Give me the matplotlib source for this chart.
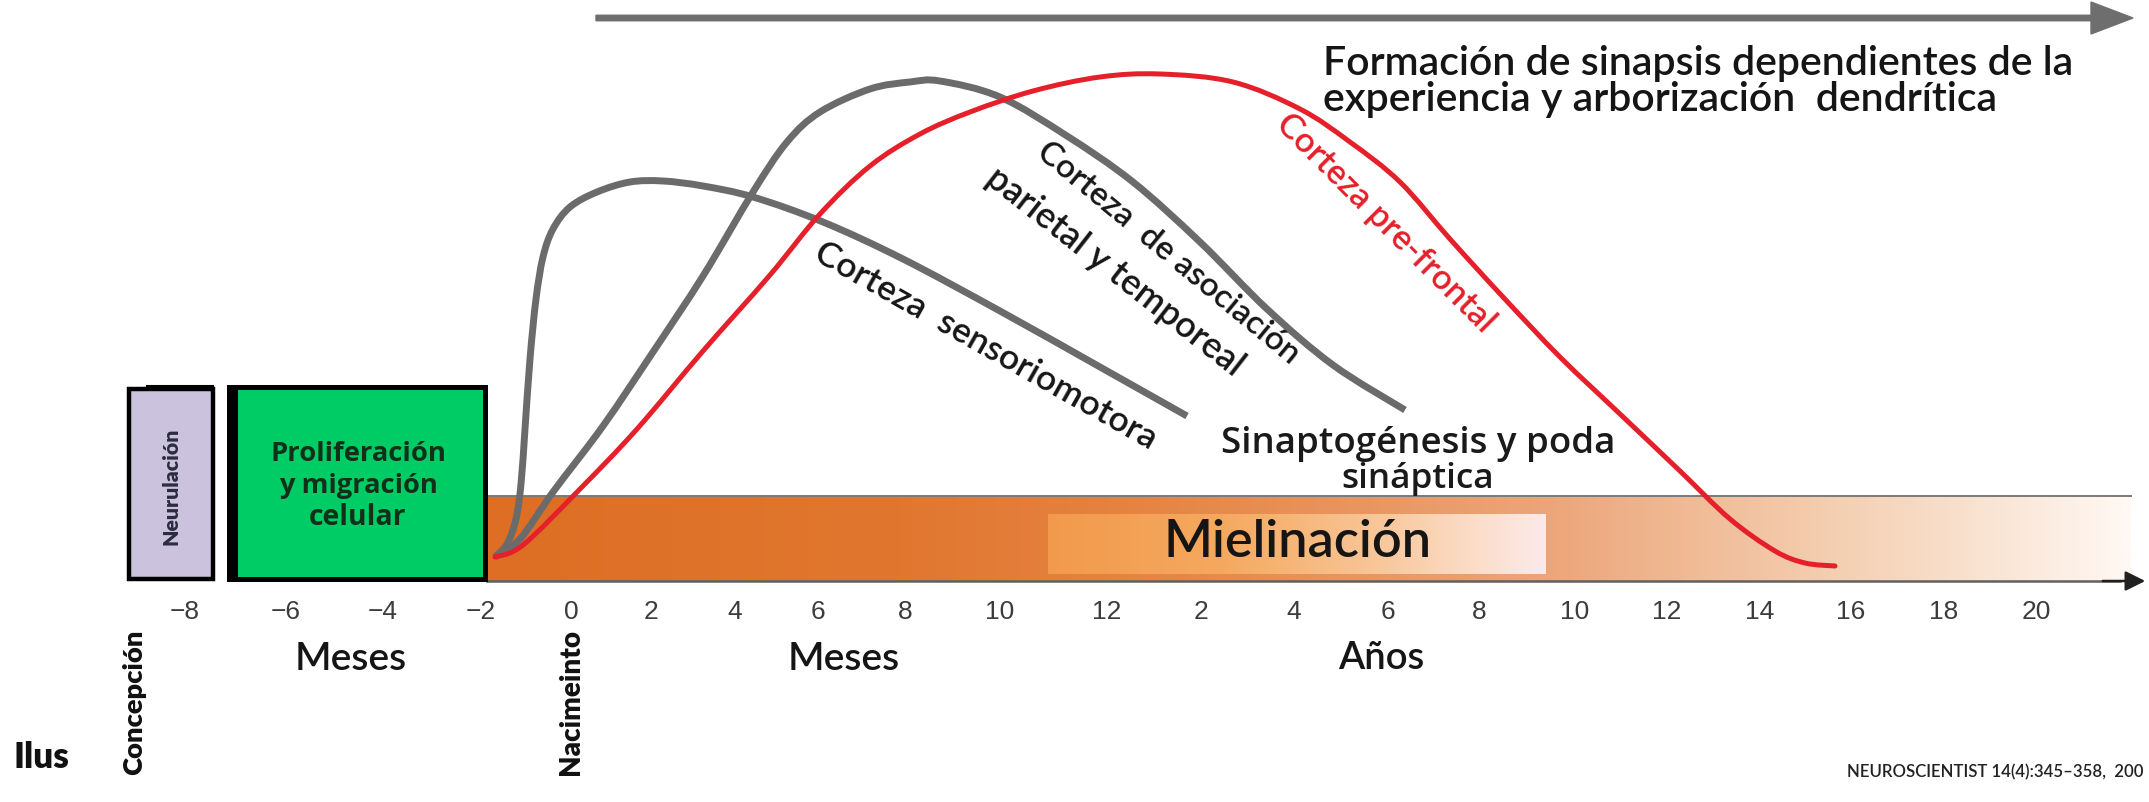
import numpy as np
import matplotlib
matplotlib.use("Agg")
import matplotlib.pyplot as plt
from matplotlib.colors import LinearSegmentedColormap
from matplotlib.patches import Rectangle, FancyArrow, PathPatch
from matplotlib.path import Path

# ---------------- data (pixel-like timeline units) ----------------
tick_labels = ["−8", "−6", "−4", "−2", "0", "2", "4", "6", "8", "10", "12",
               "2", "4", "6", "8", "10", "12", "14", "16", "18", "20"]
tick_pos = [185, 286, 383, 481, 571, 651, 735, 818, 905, 1000, 1107,
            1201, 1294, 1388, 1479, 1575, 1667, 1760, 1851, 1944, 2036]

sens_x = [495, 507, 516, 521, 525, 530, 536, 543, 553, 570, 597, 630, 663, 703, 753, 823, 903, 1000, 1100, 1187]
sens_y = [558, 545, 520, 485, 430, 360, 300, 258, 230, 208, 193, 183, 182, 187, 198, 223, 260, 312, 368, 417]

assoc_x = [495, 520, 553, 603, 653, 703, 753, 787, 820, 870, 910, 940, 1000, 1067, 1133, 1200, 1267, 1333, 1405]
assoc_y = [558, 540, 493, 427, 353, 277, 193, 143, 113, 90, 83, 82, 98, 137, 183, 243, 310, 366, 411]

pref_x = [495, 523, 580, 637, 703, 770, 820, 870, 920, 970, 1033, 1100, 1160, 1233, 1300, 1350,
          1400, 1450, 1503, 1560, 1620, 1680, 1730, 1775, 1805, 1835]
pref_y = [558, 546, 490, 430, 352, 276, 215, 167, 135, 113, 92, 78, 75, 83, 110, 143,
          183, 240, 298, 358, 415, 472, 520, 552, 564, 567]

# ---------------- figure ----------------
W, H = 2149, 803
fig = plt.figure(figsize=(W / 100, H / 100), dpi=100)
fig.patch.set_facecolor("white")
ax = fig.add_axes([0, 0, 1, 1])
ax.set_xlim(0, W)
ax.set_ylim(H, 0)
ax.set_facecolor("none")
for s in ["left", "right", "top"]:
    ax.spines[s].set_visible(False)
ax.spines["bottom"].set_position(("data", 582))
ax.spines["bottom"].set_bounds(487, 2120)
ax.spines["bottom"].set_color("#606060")
ax.spines["bottom"].set_linewidth(1.8)
ax.set_yticks([])
ax.set_xticks(tick_pos, tick_labels)
ax.tick_params(axis="x", length=0, pad=13, labelsize=19, labelcolor="#3c3c3c")
for lab in ax.get_xticklabels():
    lab.set_family("Liberation Sans")

r = fig.canvas.get_renderer()


def place(x, y, s, width, rot=0, ha="center", va="center", **kw):
    t = ax.text(x, y, s, ha=ha, va=va, fontsize=20, rotation=0,
                rotation_mode="anchor", zorder=10, **kw)
    w = t.get_window_extent(renderer=r).width
    t.set_fontsize(20 * width / w)
    t.set_rotation(rot)
    return t


def smooth_curve(xs, ys, **kw):
    """Draw the read points as one smooth Catmull-Rom (Bezier) path."""
    P = np.column_stack([xs, ys]).astype(float)
    P = np.vstack([P[0], P, P[-1]])
    verts = [tuple(P[1])]
    codes = [Path.MOVETO]
    for i in range(1, len(P) - 2):
        p0, p1, p2, p3 = P[i - 1], P[i], P[i + 1], P[i + 2]
        c1 = p1 + (p2 - p0) / 6.0
        c2 = p2 - (p3 - p1) / 6.0
        verts += [tuple(c1), tuple(c2), tuple(p2)]
        codes += [Path.CURVE4] * 3
    ax.add_patch(PathPatch(Path(verts, codes), facecolor="none", **kw))


# ---------------- timeline band with gradient ----------------
band_cmap = LinearSegmentedColormap.from_list(
    "band",
    [(0.0, "#DD6E24"), (0.25, "#E1772F"), (0.40, "#E58444"), (0.65, "#ECA67A"),
     (0.74, "#F0BC98"), (0.84, "#F5D3B8"), (0.93, "#FAE7D8"), (1.0, "#FFF8F3")])
grad = np.linspace(0, 1, 600)[None, :]
ax.imshow(grad, cmap=band_cmap, extent=(487, 2131, 582, 497), aspect="auto",
          origin="upper", zorder=1, interpolation="bilinear")
ax.plot([487, 2131], [497, 497], color="#7a7a7a", lw=1.4, zorder=2)

miel_cmap = LinearSegmentedColormap.from_list(
    "miel",
    [(0.0, "#F29A4C"), (0.35, "#F5A95F"), (0.65, "#F8C596"), (0.85, "#FBDCC6"), (1.0, "#FCEAEA")])
ax.imshow(grad, cmap=miel_cmap, extent=(1048, 1546, 575, 515), aspect="auto",
          origin="upper", zorder=2, interpolation="bilinear")
ax.set_xlim(0, W)
ax.set_ylim(H, 0)

# axis arrowhead
ax.annotate("", xy=(2148, 582), xytext=(2100, 582),
            arrowprops=dict(arrowstyle="-|>", color="#202020", lw=1.8, mutation_scale=30),
            zorder=3)

# ---------------- prenatal boxes ----------------
ax.add_patch(Rectangle((129, 390), 84, 190, facecolor="#CBC3DD", edgecolor="black",
                       lw=3.2, zorder=4))
ax.plot([147, 213], [387, 387], color="black", lw=1.5, zorder=4)
ax.add_patch(Rectangle((229, 388), 256, 192, facecolor="#00CC66", edgecolor="black",
                       lw=3.6, zorder=4))
ax.add_patch(Rectangle((227, 388), 11, 192, facecolor="black", edgecolor="black",
                       lw=0, zorder=5))

place(171, 486, "Neurulación", 118, rot=90, color="#2c2c40", family="Lato",
      weight="heavy")
place(358, 454, "Proliferación", 175, color="#10301a", family="Open Sans", weight="bold")
place(358, 486, "y migración", 158, color="#10301a", family="Open Sans", weight="bold")
place(358, 518, "celular", 97, color="#10301a", family="Open Sans", weight="bold")

# ---------------- curves ----------------
smooth_curve(sens_x, sens_y, edgecolor="#6b6b6b", lw=5.0, capstyle="butt",
             joinstyle="round", zorder=6)
smooth_curve(assoc_x, assoc_y, edgecolor="#6b6b6b", lw=5.0, capstyle="butt",
             joinstyle="round", zorder=6)
smooth_curve(pref_x, pref_y, edgecolor="#E5202A", lw=3.6, capstyle="round",
             joinstyle="round", zorder=7)

# ---------------- top arrow and text ----------------
ax.add_patch(FancyArrow(596, 19, 1537, 0, width=5.5, head_width=32, head_length=42,
                        length_includes_head=True, color="#6e6e6e", zorder=5))
t1 = place(1323, 63, "Formación de sinapsis dependientes de la", 750,
           ha="left", color="#151515", family="Lato", weight="semibold")
ax.text(1323, 99, "experiencia y arborización  dendrítica", ha="left", va="center",
        fontsize=t1.get_fontsize(), color="#151515", family="Lato", weight="semibold",
        zorder=10)

# ---------------- curve labels ----------------
place(986, 346, "Corteza  sensoriomotora", 386, rot=-29.5, color="#161616",
      family="Lato", weight="semibold")
place(1168, 253, "Corteza  de asociación", 330, rot=-39.5, color="#161616",
      family="Lato", weight="semibold")
place(1115, 272, "parietal y temporeal", 317, rot=-38, color="#161616",
      family="Lato", weight="semibold")
place(1386, 223, "Corteza pre-frontal", 295, rot=-45, color="#E5202A",
      family="Lato", weight="semibold")

place(1418, 444, "Sinaptogénesis y poda", 393, color="#1a1a1a", family="Open Sans",
      weight="semibold")
place(1418, 479, "sináptica", 153, color="#1a1a1a", family="Open Sans", weight="semibold")

place(1297, 543, "Mielinación", 268, color="#151515", family="Lato", weight="semibold")

# ---------------- time-axis captions ----------------
place(351, 659, "Meses", 112, color="#151515", family="Lato", weight="semibold")
place(844, 659, "Meses", 112, color="#151515", family="Lato", weight="semibold")
place(1381, 659, "Años", 86, color="#151515", family="Lato", weight="semibold")
place(134, 702, "Concepción", 146, rot=90, color="#111111", family="Lato", weight="heavy")
place(571, 702, "Nacimeinto", 146, rot=90, color="#111111", family="Lato", weight="heavy")

place(14, 758, "Ilus", 56, ha="left", color="#111111", family="Lato", weight="heavy")
place(1847, 772, "NEUROSCIENTIST 14(4):345–358,  200", 296, ha="left", color="#222222",
      family="Lato", weight="semibold")

fig.savefig("out.png", dpi=100, facecolor="white")
